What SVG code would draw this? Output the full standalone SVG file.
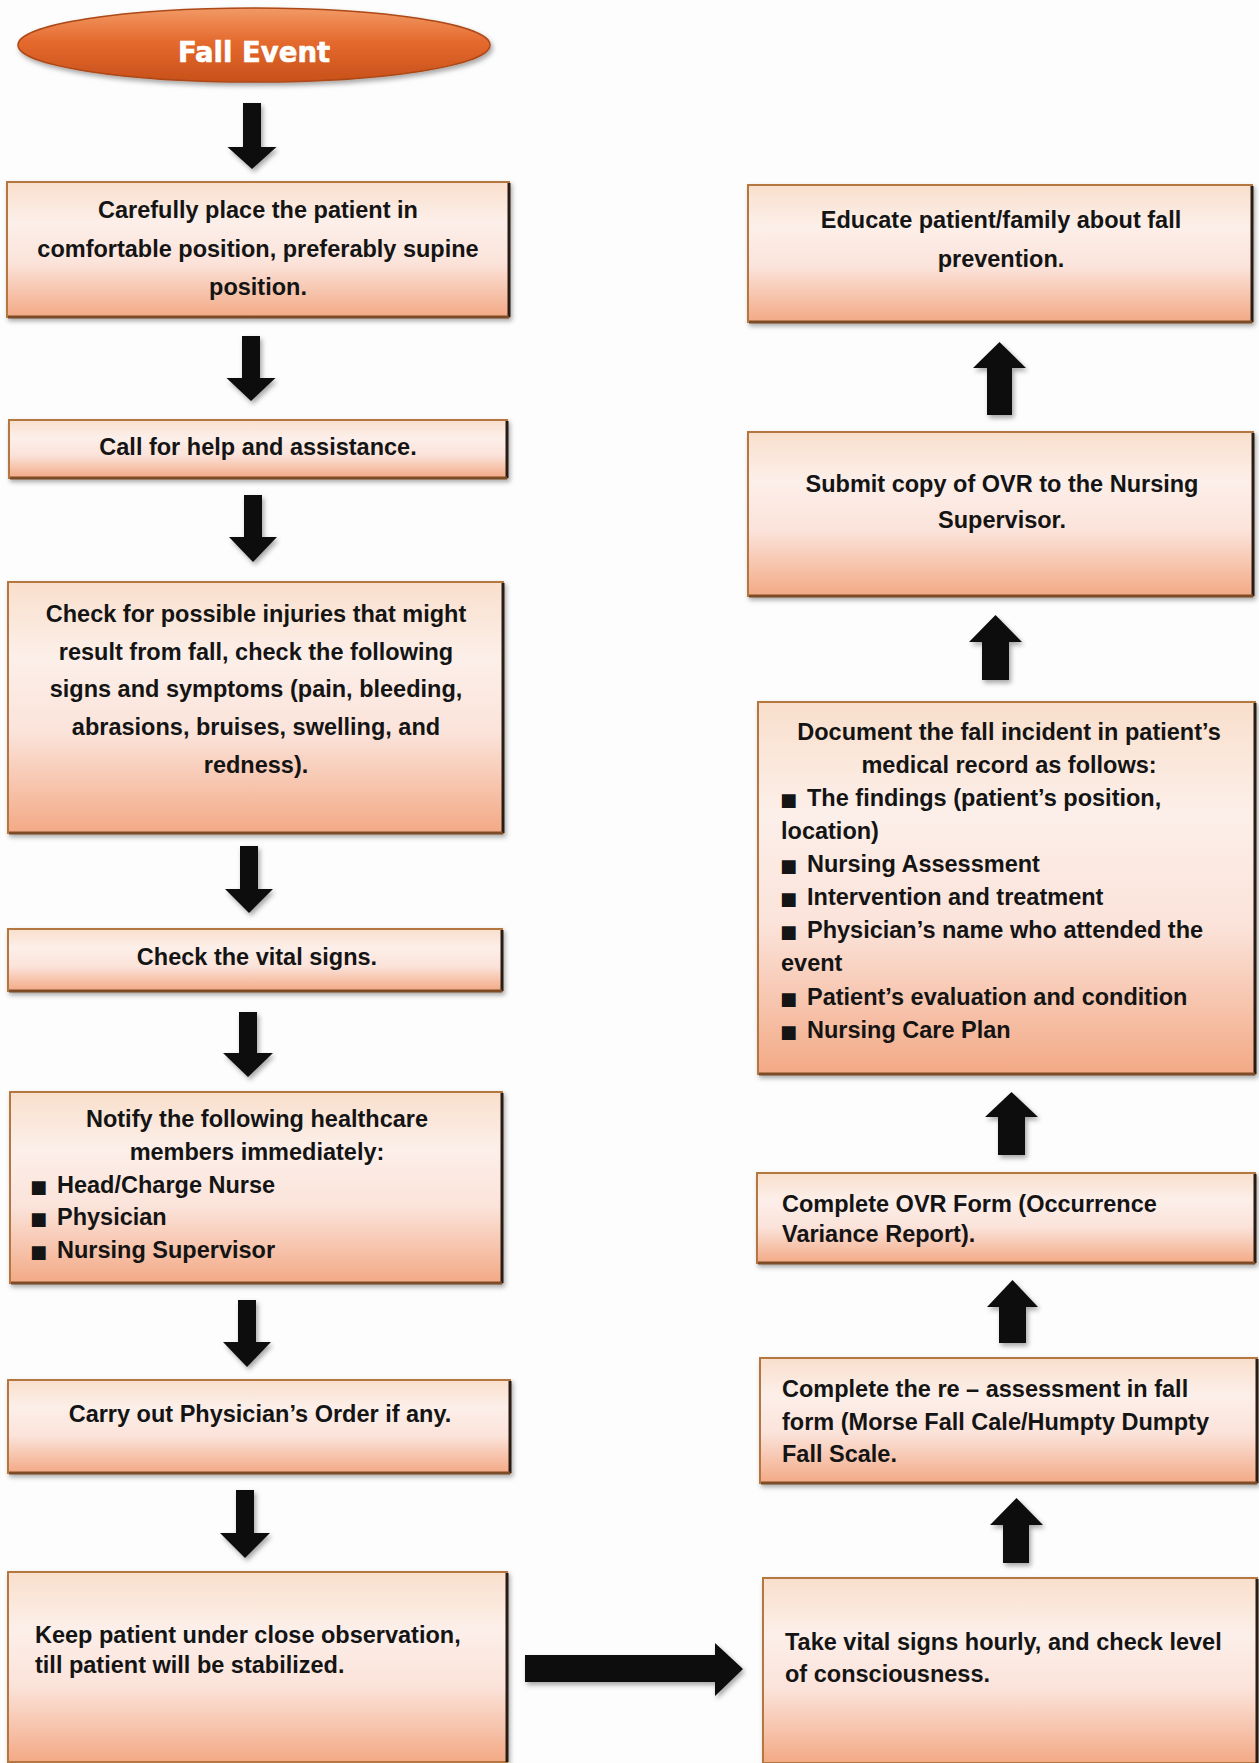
<svg xmlns="http://www.w3.org/2000/svg" width="1259" height="1763" viewBox="0 0 1259 1763">
<style>
.t{font-family:"Liberation Sans",Arial,sans-serif;font-weight:bold;font-size:23.5px;fill:#141414}
.c{text-anchor:middle}
.b{font-family:"DejaVu Sans","Liberation Sans",sans-serif;font-size:18px}
.box{fill:url(#boxg);stroke:#b5773f;stroke-width:2}
.re{stroke:#2a1c12;stroke-width:3}
.be{stroke:#7d4c27;stroke-width:3}
.arr{fill:#111}
.title{font-family:"DejaVu Sans","Liberation Sans",sans-serif;font-weight:bold;font-size:27.5px;fill:#fff;stroke:#fff;stroke-width:0.6;text-anchor:middle}
</style>
<defs>
<linearGradient id="boxg" x1="0" y1="0" x2="0" y2="1">
<stop offset="0" stop-color="#f9dfcc"/>
<stop offset="0.3" stop-color="#fcefe9"/>
<stop offset="0.6" stop-color="#fbe3da"/>
<stop offset="1" stop-color="#f3a985"/>
</linearGradient>
<linearGradient id="ellg" x1="0" y1="0" x2="0" y2="1">
<stop offset="0" stop-color="#f29a66"/>
<stop offset="0.45" stop-color="#e56a2e"/>
<stop offset="1" stop-color="#c8501b"/>
</linearGradient>
<filter id="sh" x="-5%" y="-10%" width="112%" height="125%">
<feDropShadow dx="2" dy="3" stdDeviation="2.5" flood-color="#000" flood-opacity="0.35"/>
</filter>
</defs>
<rect width="1259" height="1763" fill="#fdfdfd"/>

<g id="fall-event">
<ellipse cx="254" cy="45" rx="236" ry="37" fill="url(#ellg)" stroke="#ad4817" stroke-width="1.5" filter="url(#sh)"/>
<text class="title" x="254" y="62">Fall Event</text>
</g>

<g id="connectors">
<path class="arr" filter="url(#sh)" d="M243,103 L261,103 L261,147 L276.5,147 L252,169 L227.5,147 L243,147 Z"/>
<path class="arr" filter="url(#sh)" d="M242,336 L260,336 L260,378 L275.5,378 L251,401 L226.5,378 L242,378 Z"/>
<path class="arr" filter="url(#sh)" d="M244,495 L262,495 L262,537 L277,537 L253,562 L229,537 L244,537 Z"/>
<path class="arr" filter="url(#sh)" d="M240,846 L258,846 L258,889 L273,889 L249,913 L225,889 L240,889 Z"/>
<path class="arr" filter="url(#sh)" d="M239,1012 L257,1012 L257,1053 L273,1053 L248,1077 L223,1053 L239,1053 Z"/>
<path class="arr" filter="url(#sh)" d="M238,1300 L256,1300 L256,1342 L271,1342 L247,1367 L223,1342 L238,1342 Z"/>
<path class="arr" filter="url(#sh)" d="M236,1490 L254,1490 L254,1533 L270,1533 L245,1558 L220,1533 L236,1533 Z"/>
<path class="arr" filter="url(#sh)" d="M525,1655 L715,1655 L715,1643 L743,1669 L715,1696 L715,1682 L525,1682 Z"/>
<path class="arr" filter="url(#sh)" d="M1003,1563 L1003,1525 L990,1525 L1016.5,1498 L1043,1525 L1029,1525 L1029,1563 Z"/>
<path class="arr" filter="url(#sh)" d="M999,1343 L999,1307 L987,1307 L1012.5,1280 L1038,1307 L1026,1307 L1026,1343 Z"/>
<path class="arr" filter="url(#sh)" d="M998,1155 L998,1117 L985,1117 L1011.5,1092 L1038,1117 L1025,1117 L1025,1155 Z"/>
<path class="arr" filter="url(#sh)" d="M982,680 L982,642 L969,642 L995.5,615 L1022,642 L1009,642 L1009,680 Z"/>
<path class="arr" filter="url(#sh)" d="M987,415 L987,368 L973,368 L999.5,342 L1026,368 L1012,368 L1012,415 Z"/>
</g>

<g id="place-patient">
<rect class="box" x="7" y="182" width="502" height="135" filter="url(#sh)"/>
<line class="re" x1="509" y1="183" x2="509" y2="317"/><line class="be" x1="8" y1="317" x2="509" y2="317"/>
<text class="t c" x="258" y="218">Carefully place the patient in</text>
<text class="t c" x="258" y="257">comfortable position, preferably supine</text>
<text class="t c" x="258" y="295">position.</text>
</g>

<g id="call-help">
<rect class="box" x="9" y="420" width="498" height="58" filter="url(#sh)"/>
<line class="re" x1="507" y1="421" x2="507" y2="478"/><line class="be" x1="10" y1="478" x2="507" y2="478"/>
<text class="t c" x="258" y="455">Call for help and assistance.</text>
</g>

<g id="check-injuries">
<rect class="box" x="8" y="582" width="495" height="251" filter="url(#sh)"/>
<line class="re" x1="503" y1="583" x2="503" y2="833"/><line class="be" x1="9" y1="833" x2="503" y2="833"/>
<text class="t c" x="256" y="622">Check for possible injuries that might</text>
<text class="t c" x="256" y="660">result from fall, check the following</text>
<text class="t c" x="256" y="697">signs and symptoms (pain, bleeding,</text>
<text class="t c" x="256" y="735">abrasions, bruises, swelling, and</text>
<text class="t c" x="256" y="773">redness).</text>
</g>

<g id="check-vitals">
<rect class="box" x="8" y="929" width="494" height="62" filter="url(#sh)"/>
<line class="re" x1="502" y1="930" x2="502" y2="991"/><line class="be" x1="9" y1="991" x2="502" y2="991"/>
<text class="t c" x="257" y="965">Check the vital signs.</text>
</g>

<g id="notify">
<rect class="box" x="10" y="1092" width="492" height="191" filter="url(#sh)"/>
<line class="re" x1="502" y1="1093" x2="502" y2="1283"/><line class="be" x1="11" y1="1283" x2="502" y2="1283"/>
<text class="t c" x="257" y="1127">Notify the following healthcare</text>
<text class="t c" x="257" y="1160">members immediately:</text>
<text class="t" y="1193"><tspan class="b" x="30">■</tspan> <tspan x="57">Head/Charge Nurse</tspan></text>
<text class="t" y="1225"><tspan class="b" x="30">■</tspan> <tspan x="57">Physician</tspan></text>
<text class="t" y="1258"><tspan class="b" x="30">■</tspan> <tspan x="57">Nursing Supervisor</tspan></text>
</g>

<g id="physician-order">
<rect class="box" x="8" y="1380" width="502" height="93" filter="url(#sh)"/>
<line class="re" x1="510" y1="1381" x2="510" y2="1473"/><line class="be" x1="9" y1="1473" x2="510" y2="1473"/>
<text class="t c" x="260" y="1422">Carry out Physician’s Order if any.</text>
</g>

<g id="observation">
<rect class="box" x="8" y="1572" width="499" height="190" filter="url(#sh)"/>
<line class="re" x1="507" y1="1573" x2="507" y2="1762"/>
<text class="t" x="35" y="1643">Keep patient under close observation,</text>
<text class="t" x="35" y="1673">till patient will be stabilized.</text>
</g>

<g id="take-vitals">
<rect class="box" x="763" y="1578" width="494" height="185" filter="url(#sh)"/>
<line class="re" x1="1257" y1="1579" x2="1257" y2="1763"/>
<text class="t" x="785" y="1650">Take vital signs hourly, and check level</text>
<text class="t" x="785" y="1682">of consciousness.</text>
</g>

<g id="reassessment">
<rect class="box" x="760" y="1358" width="497" height="125" filter="url(#sh)"/>
<line class="re" x1="1257" y1="1359" x2="1257" y2="1483"/><line class="be" x1="761" y1="1483" x2="1257" y2="1483"/>
<text class="t" x="782" y="1397">Complete the re – assessment in fall</text>
<text class="t" x="782" y="1430">form (Morse Fall Cale/Humpty Dumpty</text>
<text class="t" x="782" y="1462">Fall Scale.</text>
</g>

<g id="ovr-form">
<rect class="box" x="757" y="1173" width="498" height="90" filter="url(#sh)"/>
<line class="re" x1="1255" y1="1174" x2="1255" y2="1263"/><line class="be" x1="758" y1="1263" x2="1255" y2="1263"/>
<text class="t" x="782" y="1212">Complete OVR Form (Occurrence</text>
<text class="t" x="782" y="1242">Variance Report).</text>
</g>

<g id="document">
<rect class="box" x="758" y="702" width="497" height="372" filter="url(#sh)"/>
<line class="re" x1="1255" y1="703" x2="1255" y2="1074"/><line class="be" x1="759" y1="1074" x2="1255" y2="1074"/>
<text class="t c" x="1009" y="740">Document the fall incident in patient’s</text>
<text class="t c" x="1009" y="773">medical record as follows:</text>
<text class="t" y="806"><tspan class="b" x="780">■</tspan> <tspan x="807">The findings (patient’s position,</tspan></text>
<text class="t" x="781" y="839">location)</text>
<text class="t" y="872"><tspan class="b" x="780">■</tspan> <tspan x="807">Nursing Assessment</tspan></text>
<text class="t" y="905"><tspan class="b" x="780">■</tspan> <tspan x="807">Intervention and treatment</tspan></text>
<text class="t" y="938"><tspan class="b" x="780">■</tspan> <tspan x="807">Physician’s name who attended the</tspan></text>
<text class="t" x="781" y="971">event</text>
<text class="t" y="1005"><tspan class="b" x="780">■</tspan> <tspan x="807">Patient’s evaluation and condition</tspan></text>
<text class="t" y="1038"><tspan class="b" x="780">■</tspan> <tspan x="807">Nursing Care Plan</tspan></text>
</g>

<g id="submit-ovr">
<rect class="box" x="748" y="432" width="505" height="164" filter="url(#sh)"/>
<line class="re" x1="1253" y1="433" x2="1253" y2="596"/><line class="be" x1="749" y1="596" x2="1253" y2="596"/>
<text class="t c" x="1002" y="492">Submit copy of OVR to the Nursing</text>
<text class="t c" x="1002" y="528">Supervisor.</text>
</g>

<g id="educate">
<rect class="box" x="748" y="185" width="504" height="137" filter="url(#sh)"/>
<line class="re" x1="1252" y1="186" x2="1252" y2="322"/><line class="be" x1="749" y1="322" x2="1252" y2="322"/>
<text class="t c" x="1001" y="228">Educate patient/family about fall</text>
<text class="t c" x="1001" y="267">prevention.</text>
</g>
</svg>
